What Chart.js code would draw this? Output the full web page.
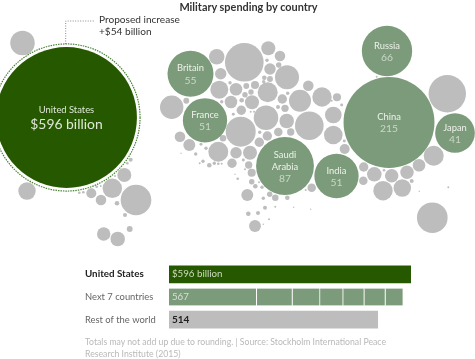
<!DOCTYPE html>
<html>
<head>
<meta charset="utf-8">
<style>
  body { margin: 0; background: #fff; width: 475px; height: 359px; overflow: hidden; font-family: Lato, sans-serif; }
  canvas { position: absolute; display: block; }
  .txt { position: absolute; white-space: nowrap; }
  #title { left: 0; width: 497px; top: 0; text-align: center; font-weight: 700; font-size: 10.9px; line-height: 13px; color: #333; }
  #note { left: 99px; top: 13px; font-size: 10.1px; line-height: 12px; color: #333; }
  #foot { left: 85px; top: 336px; font-size: 8.7px; line-height: 12px; color: #b9b9b9; }
</style>
</head>
<body>
<canvas id="bubbleChart" width="475" height="359" style="left:0;top:0"></canvas>
<canvas id="barChart" width="326" height="68" style="left:85px;top:263px"></canvas>
<div class="txt" id="title">Military spending by country</div>
<div class="txt" id="note">Proposed increase<br>+$54 billion</div>
<div class="txt" id="foot">Totals may not add up due to rounding. | Source: Stockholm International Peace<br>Research Institute (2015)</div>

<script src="https://cdn.jsdelivr.net/npm/chart.js@4"></script>
<script>
// spending in $ billions, positions are spots on the bubble map (same units as the picture)
const usValue = 596;
const proposedIncrease = 54;
const usSpot = [66.5, 117.5];

const nextNames = [['China'], ['Saudi', 'Arabia'], ['Russia'], ['Britain'], ['France'], ['India'], ['Japan']];
const nextValues = [215, 87, 66, 55, 51, 51, 41];
const nextX = [389, 285, 387, 190.5, 205, 336.5, 455];
const nextY = [122.5, 166, 51, 73.7, 120.3, 176, 133];

// rest of the world, sizes
const restX = [22.5, 27, 124.3, 112.3, 91.3, 101, 136, 117, 125, 103.7, 117.7, 129.7, 130.7, 127.3, 79.3, 83.3, 96.7, 100.7, 115,
  244.3, 216.7, 268.3, 280, 267, 270, 278.7, 287, 220.7, 308.3, 270, 264.3, 263.7, 230, 219.3, 236, 246.3, 255, 245, 251, 267.7,
  282.3, 287.7, 300, 322, 171.7, 186.3, 221.7, 231, 241.7, 252, 241.3, 233.3, 250.7, 254, 266, 278, 285, 286.7, 309.3, 240.7,
  180, 223, 259.7, 267.3, 278.3, 290.7, 259.3, 218.3, 201, 189.3, 206, 195.7, 236, 250, 232, 248.7, 251.7, 243.3, 203, 209.3,
  214.3, 218.3, 221.7, 199.7, 181, 237.7, 235, 251.7, 255.3, 262, 247.3, 263.3, 269.7, 275.3, 287.3, 265, 275.3, 258, 248.3,
  255, 269, 263.3, 293.7, 310.7, 311.7, 305.7, 259, 245,
  447.3, 337, 333.3, 333.3, 331.7, 341.7, 376.7, 344.3, 344.7, 363.7, 363.3, 374.3, 384, 391.7, 383, 402.3, 407, 411.7, 419,
  433.7, 419.3, 448.3, 432.3];
const restY = [43, 191, 175, 188.3, 193.3, 200, 200, 203.3, 215, 234, 239, 229, 159.7, 163.3, 192.7, 192.3, 186.7, 186, 176,
  62.3, 56.7, 48.3, 56, 60.3, 69, 65, 77.3, 73.7, 85.7, 79, 77.7, 81.7, 82.7, 89.7, 89.3, 86, 85, 94.7, 92, 92.3,
  99, 93.3, 100.7, 97, 107.3, 100.7, 101.7, 102, 100.3, 102.3, 110.3, 114.3, 111.7, 111.7, 117.7, 107, 108.3, 121, 125.7, 131.7,
  136.7, 138.3, 132.3, 136, 132, 132, 142.3, 151.7, 144.3, 145, 148.3, 154, 152.7, 152.7, 163.3, 165, 172.7, 160, 161.3, 165.3,
  163.3, 163.7, 163.7, 163.3, 153.3, 178.7, 174.3, 181.7, 186.3, 187.3, 195, 198.3, 194.3, 197.7, 197.7, 207.7, 206.7, 213, 213.7,
  226, 219.3, 224.3, 207.3, 209.3, 187.7, 190, 182.3, 169.3,
  93.7, 97.3, 115, 135, 100.7, 105, 76.7, 141, 149, 167, 180.7, 174.3, 170.3, 175.7, 190.7, 188, 172.3, 181, 165.3,
  155.7, 191.3, 187.3, 217.7];
const restValues = [15.7, 7.9, 5.1, 9.8, 2.6, 2.9, 24.4, 0.55, 0.42, 4.7, 5.5, 0.9, 0.42, 0.18, 0.18, 0.18, 0.18, 0.1, 0.1,
  38.8, 6.2, 5.1, 2.9, 0.3, 3.4, 0.76, 15, 3.4, 2.9, 0.9, 0.55, 0.3, 0.3, 8.4, 4.1, 0.9, 1.7, 0.76, 0.76, 10.4,
  2.3, 0.3, 12.6, 9.8, 14.2, 0.9, 0.3, 4.1, 0.55, 5.1, 2.3, 0.23, 0.1, 0.1, 15.7, 0.42, 1.4, 5.5, 21.3, 23.4,
  2.9, 1.1, 0.3, 2.3, 1.9, 1.4, 2.3, 10.4, 0.23, 3.7, 0.3, 0.3, 3.4, 5.1, 2.3, 1.4, 1.7, 0.23, 0.3, 0.55,
  0.3, 0.18, 0.1, 0.1, 0.05, 0.18, 0.05, 0.76, 0.55, 0.3, 3.7, 0.3, 0.76, 1.1, 0.55, 0.42, 0.1, 0.42, 0.55,
  3.7, 0.1, 0.05, 0.05, 0.05, 1.9, 0.1, 0.1, 0.1,
  36.4, 1.7, 7.2, 9, 0.1, 0.23, 0.1, 0.23, 2.6, 2.3, 1.9, 5.5, 0.18, 4.7, 9.8, 7.9, 4.7, 0.42, 4.1,
  10.4, 0.05, 0.1, 24.4];

// bar lengths, they run a bit longer than the 567 printed on the bar
const barCategories = ['United States', 'Next 7 countries', 'Rest of the world'];
const barUs = 596;
const barNext = [216, 88, 68, 57, 52, 52, 44];
const barRest = 514;
const barTexts = ['$596 billion', '567', '514'];

const darkGreen = '#265800';
const midGreen = '#7b9b7a';
const grey = '#bdbdbd';
const usScale = 2.885;
const worldScale = 3.1;

function bubbleRadius(value, scale) {
  return scale * Math.sqrt(value);
}

// dotted ring round the US bubble
const ringDash = {
  id: 'ringDash',
  beforeDatasetDraw(chart, args) {
    if (args.index === 1) chart.ctx.setLineDash([1.5, 1]);
  },
  afterDatasetDraw(chart, args) {
    if (args.index === 1) chart.ctx.setLineDash([]);
  }
};

// country names inside the bubbles
const bubbleLabels = {
  id: 'bubbleLabels',
  afterDatasetsDraw(chart) {
    const ctx = chart.ctx;
    const x = chart.scales.x, y = chart.scales.y;
    ctx.save();
    ctx.textAlign = 'center';
    ctx.textBaseline = 'middle';

    ctx.fillStyle = '#dfe8d6';
    ctx.font = '9.4px Lato';
    ctx.fillText('United States', x.getPixelForValue(usSpot[0]), y.getPixelForValue(usSpot[1] - 7.5));
    ctx.font = '13.9px Lato';
    ctx.fillText('$' + usValue + ' billion', x.getPixelForValue(usSpot[0]), y.getPixelForValue(usSpot[1] + 7.5));

    nextNames.forEach(function(lines, i) {
      const px = x.getPixelForValue(nextX[i]);
      const top = y.getPixelForValue(nextY[i]) - (lines.length * 12) / 2 + 0.5;
      ctx.font = '9.4px Lato';
      ctx.fillStyle = '#eef2ea';
      lines.forEach(function(line, j) {
        ctx.fillText(line, px, top + j * 12);
      });
      ctx.fillStyle = '#ccd8c9';
      ctx.font = '10.3px Lato';
      ctx.fillText(String(nextValues[i]), px, top + lines.length * 12);
    });
    ctx.restore();
  }
};

new Chart(document.getElementById('bubbleChart'), {
  type: 'bubble',
  plugins: [ringDash, bubbleLabels],
  data: {
    datasets: [{
      data: [{ x: usSpot[0], y: usSpot[1], r: bubbleRadius(usValue, usScale) }],
      backgroundColor: darkGreen,
      borderWidth: 0
    }, {
      data: [{ x: usSpot[0], y: usSpot[1], r: bubbleRadius(usValue + proposedIncrease, usScale) }],
      backgroundColor: 'transparent',
      borderColor: '#4a8436',
      borderWidth: 1.2
    }, {
      data: nextValues.map(function(v, i) {
        return { x: nextX[i], y: nextY[i], r: bubbleRadius(v, worldScale) };
      }),
      backgroundColor: midGreen,
      borderWidth: 0
    }, {
      data: restValues.map(function(v, i) {
        return { x: restX[i], y: restY[i], r: bubbleRadius(v, worldScale) };
      }),
      backgroundColor: grey,
      borderWidth: 0
    }, {
      // leader line from the ring to the note
      type: 'line',
      data: [{ x: 65.7, y: 44 }, { x: 65.7, y: 21 }, { x: 95, y: 21 }],
      borderColor: '#8a8a8a',
      borderWidth: 1,
      borderDash: [1, 1.5],
      pointRadius: 0,
      tension: 0,
      fill: false
    }]
  },
  options: {
    responsive: false,
    animation: false,
    events: [],
    layout: { autoPadding: false, padding: 0 },
    plugins: { legend: { display: false }, tooltip: { enabled: false } },
    scales: {
      x: { type: 'linear', display: false, min: 0, max: 475 },
      y: { type: 'linear', display: false, min: 0, max: 359, reverse: true }
    }
  }
});

// texts inside the bars
const barLabels = {
  id: 'barLabels',
  afterDatasetsDraw(chart) {
    const ctx = chart.ctx;
    const colors = ['#cfdcc0', '#d6e0d3', '#222'];
    ctx.save();
    ctx.textAlign = 'left';
    ctx.textBaseline = 'middle';
    barTexts.forEach(function(text, i) {
      ctx.font = i === 2 ? '700 10px Lato' : '9.7px Lato';
      ctx.fillStyle = colors[i];
      ctx.fillText(text, chart.scales.x.getPixelForValue(0) + 3, chart.scales.y.getPixelForValue(i));
    });
    ctx.restore();
  }
};

const barSets = [{ data: [barUs, null, null], backgroundColor: darkGreen, borderWidth: 0 }];
barNext.forEach(function(v) {
  barSets.push({
    data: [null, v, null],
    backgroundColor: midGreen,
    borderColor: '#fff',
    borderWidth: { right: 1 },
    borderSkipped: false
  });
});
barSets.push({ data: [null, null, barRest], backgroundColor: grey, borderWidth: 0 });

new Chart(document.getElementById('barChart'), {
  type: 'bar',
  plugins: [barLabels],
  data: { labels: barCategories, datasets: barSets },
  options: {
    indexAxis: 'y',
    responsive: false,
    animation: false,
    events: [],
    datasets: { bar: { barThickness: 17 } },
    layout: { padding: 0 },
    plugins: { legend: { display: false }, tooltip: { enabled: false } },
    scales: {
      x: { stacked: true, display: false, min: 0, max: 596 },
      y: {
        stacked: true,
        afterFit: function(axis) {
          // keep the rows on the full canvas height, no room for the first and last tick text
          axis.width = 84;
          axis.paddingTop = 0;
          axis.paddingBottom = 0;
        },
        grid: { display: false },
        border: { display: false },
        ticks: {
          crossAlign: 'far',
          padding: 0,
          color: function(c) { return c.index === 0 ? '#222' : '#666'; },
          font: function(c) {
            return c.index === 0 ? { family: 'Lato', size: 9.8, weight: '700' } : { family: 'Lato', size: 9.4 };
          }
        }
      }
    }
  }
});
</script>
</body>
</html>
